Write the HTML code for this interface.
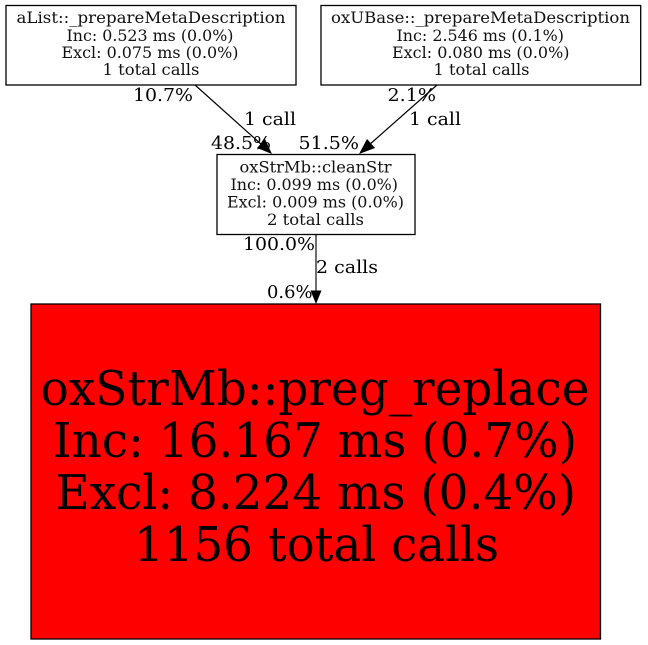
<!DOCTYPE html>
<html><head><meta charset="utf-8"><style>
html,body{margin:0;padding:0;background:#fff}
svg{display:block}
text{font-family:"DejaVu Serif",serif;fill:#000}
.n{font-size:15.5px;text-anchor:start;fill:#111}
.l{font-size:18px}
.b{font-size:47.5px}
</style></head><body>
<svg width="648" height="645" viewBox="0 0 648 645" xmlns="http://www.w3.org/2000/svg">
<rect width="648" height="645" fill="#fff"/>
<rect x="6" y="5.5" width="290" height="79.5" fill="#fff" stroke="#000" stroke-width="1.3"/>
<text class="n" x="16.5" y="23" textLength="269" lengthAdjust="spacingAndGlyphs">aList::_prepareMetaDescription</text>
<text class="n" x="66.5" y="41" textLength="167" lengthAdjust="spacingAndGlyphs">Inc: 0.523 ms (0.0%)</text>
<text class="n" x="61.5" y="58" textLength="177" lengthAdjust="spacingAndGlyphs">Excl: 0.075 ms (0.0%)</text>
<text class="n" x="102.5" y="75" textLength="97" lengthAdjust="spacingAndGlyphs">1 total calls</text>
<rect x="321" y="5.5" width="319.7" height="79.5" fill="#fff" stroke="#000" stroke-width="1.3"/>
<text class="n" x="331" y="23" textLength="299" lengthAdjust="spacingAndGlyphs">oxUBase::_prepareMetaDescription</text>
<text class="n" x="396.5" y="41" textLength="167.5" lengthAdjust="spacingAndGlyphs">Inc: 2.546 ms (0.1%)</text>
<text class="n" x="392" y="58" textLength="177.5" lengthAdjust="spacingAndGlyphs">Excl: 0.080 ms (0.0%)</text>
<text class="n" x="433.5" y="75" textLength="96" lengthAdjust="spacingAndGlyphs">1 total calls</text>
<rect x="217" y="154.5" width="198" height="80" fill="#fff" stroke="#000" stroke-width="1.3"/>
<text class="n" x="239.5" y="172.5" textLength="152" lengthAdjust="spacingAndGlyphs">oxStrMb::cleanStr</text>
<text class="n" x="230.5" y="190" textLength="167.5" lengthAdjust="spacingAndGlyphs">Inc: 0.099 ms (0.0%)</text>
<text class="n" x="227" y="207.5" textLength="177" lengthAdjust="spacingAndGlyphs">Excl: 0.009 ms (0.0%)</text>
<text class="n" x="267" y="225" textLength="97" lengthAdjust="spacingAndGlyphs">2 total calls</text>
<rect x="31" y="304" width="569.5" height="335" fill="#f00" stroke="#000" stroke-width="1.3"/>
<text class="b" x="40.5" y="405" textLength="549" lengthAdjust="spacingAndGlyphs">oxStrMb::preg_replace</text>
<text class="b" x="53" y="457" textLength="524" lengthAdjust="spacingAndGlyphs">Inc: 16.167 ms (0.7%)</text>
<text class="b" x="55.5" y="509" textLength="520.5" lengthAdjust="spacingAndGlyphs">Excl: 8.224 ms (0.4%)</text>
<text class="b" x="134" y="561" textLength="365" lengthAdjust="spacingAndGlyphs">1156 total calls</text>
<line x1="195" y1="85" x2="262" y2="145" stroke="#000" stroke-width="1.2"/>
<polygon points="272,154 257,148 265,139" fill="#000"/>
<line x1="437" y1="85" x2="369" y2="145" stroke="#000" stroke-width="1.2"/>
<polygon points="359,154 367,139 375,148" fill="#000"/>
<line x1="316" y1="235" x2="316" y2="292" stroke="#222" stroke-width="1.3"/>
<polygon points="316,304 310.5,290.5 321.5,290.5" fill="#000"/>
<text class="l" x="133" y="101" textLength="60" lengthAdjust="spacingAndGlyphs">10.7%</text>
<text class="l" x="244" y="125" textLength="52" lengthAdjust="spacingAndGlyphs">1 call</text>
<text class="l" x="211" y="149" textLength="60" lengthAdjust="spacingAndGlyphs">48.5%</text>
<text class="l" x="298.5" y="149" textLength="60.5" lengthAdjust="spacingAndGlyphs">51.5%</text>
<text class="l" x="387.5" y="101" textLength="48.5" lengthAdjust="spacingAndGlyphs">2.1%</text>
<text class="l" x="409" y="125" textLength="52" lengthAdjust="spacingAndGlyphs">1 call</text>
<text class="l" x="243" y="250" textLength="72" lengthAdjust="spacingAndGlyphs">100.0%</text>
<text class="l" x="316" y="273" textLength="62" lengthAdjust="spacingAndGlyphs">2 calls</text>
<text class="l" x="267" y="298" textLength="45.5" lengthAdjust="spacingAndGlyphs">0.6%</text>
</svg>
</body></html>
